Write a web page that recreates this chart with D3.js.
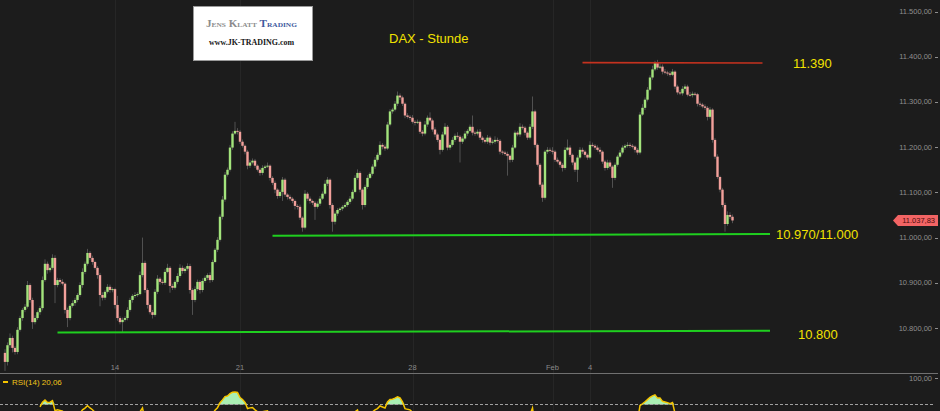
<!DOCTYPE html>
<html><head><meta charset="utf-8">
<script src="https://cdn.jsdelivr.net/npm/d3@7"></script>
<style>html,body{margin:0;padding:0;background:#1c1c1c;overflow:hidden}</style>
</head><body>
<svg id="c" width="940" height="411"></svg>
<script>
// ---- data (DAX hourly closes) ----
const closes = [
10725,10762,10778,10756,10747,10796,10822,10840,10847,10895,
10862,10813,10822,10835,10844,10906,10942,10928,10933,10955,
10895,10906,10902,10898,10840,10822,10849,10855,10862,10873,
10895,10924,10942,10966,10955,10946,10933,10917,10873,10867,
10880,10891,10884,10886,10851,10822,10813,10818,10822,10840,
10862,10871,10873,10875,10917,10944,10884,10851,10835,10829,
10880,10909,10902,10900,10924,10933,10893,10889,10902,10915,
10933,10926,10931,10937,10884,10862,10886,10902,10884,10904,
10911,10917,10906,10946,10973,10995,11046,11084,11139,11150,
11199,11230,11236,11234,11212,11203,11190,11159,11166,11170,
11159,11150,11143,11154,11157,11159,11132,11121,11106,11092,
11101,11128,11095,11090,11086,11081,11070,11068,11044,11022,
11097,11086,11081,11077,11068,11075,11086,11097,11119,11128,
11072,11035,11053,11061,11064,11068,11072,11079,11086,11101,
11132,11143,11106,11072,11112,11132,11141,11157,11172,11183,
11205,11201,11197,11250,11279,11283,11296,11314,11310,11296,
11270,11267,11265,11256,11254,11256,11234,11230,11250,11265,
11259,11239,11228,11216,11194,11228,11245,11199,11205,11216,
11225,11223,11212,11219,11230,11236,11245,11232,11230,11234,
11221,11216,11212,11221,11210,11212,11216,11214,11190,11188,
11185,11181,11172,11199,11232,11228,11245,11243,11232,11221,
11245,11279,11205,11161,11117,11088,11190,11194,11192,11190,
11172,11168,11161,11154,11194,11199,11183,11166,11150,11177,
11194,11190,11183,11177,11205,11203,11199,11194,11190,11168,
11154,11166,11157,11132,11161,11179,11188,11199,11203,11205,
11203,11201,11194,11188,11272,11287,11305,11327,11354,11372,
11387,11376,11378,11367,11365,11363,11360,11367,11334,11321,
11319,11329,11334,11316,11315,11318,11317,11296,11294,11290,
11287,11267,11283,11216,11179,11134,11106,11072,11030,11050,
11046,11037.83];
const firstOpen = 10745;
const wickUp = [
8,6,10,5,4,6,5,4,6,9, 4,5,6,4,5,8,10,5,6,8, 6,5,4,6,3,5,4,6,5,4, 6,8,5,9,4,5,3,4,5,6,
4,6,5,4,3,20,4,5,4,6, 5,4,6,4,8,56,5,4,3,5, 6,8,4,5,6,9,4,5,4,6, 8,5,4,6,5,4,6,5,4,6,
5,4,6,5,4,6,5,8,6,5, 6,5,20,6,4,5,3,4,6,5, 4,3,5,6,4,7,3,4,5,3, 5,6,4,3,5,4,3,4,5,3,
8,4,5,3,4,5,6,5,8,6, 3,4,5,4,3,4,5,4,6,5, 6,8,4,3,5,6,4,5,6,5, 8,4,5,6,5,4,6,9,5,4,
3,5,4,6,4,5,3,4,8,5, 12,4,5,4,3,6,8,4,5,6, 5,8,4,5,6,4,5,25,4,5, 6,4,5,6,4,5,8,5,4,3,
4,5,3,6,5,4,8,5,4,3, 6,33,4,3,4,5,4,6,5,8, 4,5,3,4,6,18,5,3,4,5, 6,5,4,3,8,5,4,5,6,3,
4,6,5,3,5,4,6,5,4,6, 5,4,3,4,6,8,5,6,5,8, 4,6,8,5,6,4,5,6,3,4, 5,6,5,4,6,5,4,3,5,4,
5,4,6,3,4,5,3,4,5,8, 6,5];
const wickDn = [
20,8,6,10,6,5,4,6,5,4, 6,15,5,4,6,5,4,8,5,4, 40,5,6,4,8,20,5,4,6,5, 4,6,5,4,5,6,4,8,25,6,
5,4,6,5,8,6,5,22,4,5, 4,6,5,4,3,5,6,8,5,8, 4,5,6,4,5,3,15,5,4,5, 4,6,5,4,8,33,5,4,8,5,
4,5,6,4,3,5,4,6,5,4, 4,5,3,6,5,4,6,8,5,4, 5,4,6,5,4,3,6,5,8,6, 4,20,5,6,4,5,8,6,5,9,
4,5,6,5,29,4,5,3,4,5, 8,22,6,5,4,5,3,4,5,4, 3,4,6,10,5,4,3,4,5,4, 4,6,5,3,4,5,4,5,6,5,
6,4,5,4,6,3,5,6,4,5, 4,5,6,5,10,4,3,6,5,4, 5,4,46,5,4,5,3,6,5,4, 5,6,4,5,6,4,5,4,6,5,
4,44,6,5,3,4,5,4,6,5, 4,5,6,4,5,9,4,5,4,6, 5,4,6,8,4,3,5,6,5,27, 4,5,6,5,4,3,5,4,6,5,
6,4,5,22,5,4,3,4,5,4, 5,4,6,5,4,3,5,4,3,5, 4,5,3,6,4,5,4,3,6,5, 4,5,6,4,3,5,4,6,5,4,
5,8,4,6,5,4,6,5,17,4, 5,6];
const priceTicks = [10800,10900,11000,11100,11200,11300,11400,11500];
const dayTickIndex = [44, 94, 163, 219, 234];
const dayTickLabels = ["14","21","28","Feb","4"];
const levelStart = [21, 107, 231];
const levelEnd = [306, 306, 303];
const levelFrom = [10790, 11004, 11387];
const levelTo = [10794, 11008, 11386];
const levelLabels = ["10.800", "10.970/11.000", "11.390"];
const lastPrice = 11037.83;
const rsiPeriod = 14;
const rsiLegend = "RSI(14) 20,06";
const rsiLevels = [100, 70];
const title = "DAX - Stunde";

// ---- drawing ----
const W = 940, H = 411;
const svg = d3.select("#c");
const FONT = "'Liberation Sans', Arial, sans-serif";
svg.append("rect").attr("width", W).attr("height", H).attr("fill", "#1c1c1c");

const x = d3.scaleLinear().domain([0, closes.length - 1]).range([5, 732.5]);
const y = d3.scaleLinear().domain([10800, 11500]).range([328, 11.5]);
const de = d3.formatLocale({decimal: ",", thousands: ".", grouping: [3], currency: ["", "€"]});
const fmt = de.format(",.2f");

// faint day grid
svg.append("g").selectAll("line").data(dayTickIndex).join("line")
  .attr("x1", d => Math.round(x(d)) + 0.5).attr("x2", d => Math.round(x(d)) + 0.5)
  .attr("y1", 0).attr("y2", H).attr("stroke", "#262626");

// candles
const candles = closes.map((c, i) => {
  const o = i ? closes[i - 1] : firstOpen;
  return {i, o, c, h: Math.max(o, c) + wickUp[i], l: Math.min(o, c) - wickDn[i]};
});
const cg = svg.append("g");
cg.selectAll("line").data(candles).join("line")
  .attr("x1", d => x(d.i)).attr("x2", d => x(d.i))
  .attr("y1", d => y(d.h)).attr("y2", d => y(d.l))
  .attr("stroke", "#505050").attr("stroke-width", 1);
cg.selectAll("rect").data(candles).join("rect")
  .attr("x", d => x(d.i) - 1.2).attr("width", 2.4)
  .attr("y", d => y(Math.max(d.o, d.c)))
  .attr("height", d => Math.max(1, Math.abs(y(d.o) - y(d.c))))
  .attr("fill", d => d.c >= d.o ? "#a3e47c" : "#f2a09b");

// level lines
const levelColors = ["#1fcf1f", "#1fcf1f", "#c4321f"];
const levelWidths = [2, 2, 1.6];
svg.append("g").selectAll("line").data(levelLabels).join("line")
  .attr("x1", (d, k) => x(levelStart[k])).attr("x2", (d, k) => x(levelEnd[k]))
  .attr("y1", (d, k) => y(levelFrom[k])).attr("y2", (d, k) => y(levelTo[k]))
  .attr("stroke", (d, k) => levelColors[k]).attr("stroke-width", (d, k) => levelWidths[k]);
const labelX = [798, 776, 793];
const labelDy = [8, 5, 5];
svg.append("g").selectAll("text").data(levelLabels).join("text")
  .attr("x", (d, k) => labelX[k]).attr("y", (d, k) => y(levelTo[k]) + labelDy[k])
  .attr("fill", "#f2e200").attr("font-family", FONT).attr("font-size", 13)
  .text(d => d);

// title
svg.append("text").attr("x", 389).attr("y", 42.5).attr("fill", "#f2e200")
  .attr("font-family", FONT).attr("font-size", 13).text(title);

// logo box
svg.append("rect").attr("x", 193.5).attr("y", 6.5).attr("width", 119).attr("height", 54)
  .attr("fill", "#ffffff").attr("stroke", "#9a9a9a");
const l1 = svg.append("text").attr("x", 206).attr("y", 26.5)
  .attr("font-family", "'Liberation Serif', 'Times New Roman', serif").attr("font-size", 10.5)
  .attr("font-weight", "bold").style("font-variant", "small-caps")
  .attr("textLength", 91).attr("lengthAdjust", "spacingAndGlyphs");
l1.append("tspan").attr("fill", "#8c8c8c").text("Jens Klatt ");
l1.append("tspan").attr("fill", "#3d5a9e").text("Trading");
svg.append("text").attr("x", 209).attr("y", 45).attr("fill", "#151515")
  .attr("font-family", "'Liberation Serif', 'Times New Roman', serif").attr("font-size", 8.5)
  .attr("font-weight", "bold").attr("textLength", 85).attr("lengthAdjust", "spacingAndGlyphs")
  .text("www.JK-TRADING.com");

// price axis
const ag = svg.append("g");
ag.selectAll("text").data(priceTicks).join("text")
  .attr("x", 932).attr("y", d => y(d) + 2.5).attr("text-anchor", "end")
  .attr("fill", "#8f8f8f").attr("font-family", FONT).attr("font-size", 7.5)
  .text(d => fmt(d));
ag.selectAll("line").data(priceTicks).join("line")
  .attr("x1", 935).attr("x2", 938).attr("y1", d => Math.round(y(d)) + 0.5).attr("y2", d => Math.round(y(d)) + 0.5)
  .attr("stroke", "#8f8f8f");

// last price marker
const yp = y(lastPrice);
svg.append("path")
  .attr("d", `M893,${yp} L898,${yp - 5.5} L938,${yp - 5.5} L938,${yp + 5.5} L898,${yp + 5.5} Z`)
  .attr("fill", "#f26464");
svg.append("text").attr("x", 935).attr("y", yp + 2.7).attr("text-anchor", "end")
  .attr("fill", "#4a0c0c").attr("font-family", FONT).attr("font-size", 7.5).text(fmt(lastPrice));

// time labels
svg.append("g").selectAll("text").data(dayTickIndex).join("text")
  .attr("x", d => x(d)).attr("y", 370).attr("text-anchor", "middle")
  .attr("fill", "#8a8a8a").attr("font-family", FONT).attr("font-size", 7.5)
  .text((d, k) => dayTickLabels[k]);

// separator
svg.append("line").attr("x1", 0).attr("x2", 938).attr("y1", 373.5).attr("y2", 373.5)
  .attr("stroke", "#707070");

// ---- RSI panel ----
const rsi = new Array(closes.length).fill(null);
let ag0 = 0, al0 = 0;
for (let i = 1; i <= rsiPeriod; i++) {
  const ch = closes[i] - closes[i - 1];
  if (ch > 0) ag0 += ch; else al0 -= ch;
}
ag0 /= rsiPeriod; al0 /= rsiPeriod;
rsi[rsiPeriod] = al0 === 0 ? 100 : 100 - 100 / (1 + ag0 / al0);
for (let i = rsiPeriod + 1; i < closes.length; i++) {
  const ch = closes[i] - closes[i - 1];
  ag0 = (ag0 * (rsiPeriod - 1) + Math.max(ch, 0)) / rsiPeriod;
  al0 = (al0 * (rsiPeriod - 1) + Math.max(-ch, 0)) / rsiPeriod;
  rsi[i] = al0 === 0 ? 100 : 100 - 100 / (1 + ag0 / al0);
}
const ry = d3.scaleLinear().domain([70, 100]).range([404.5, 378.5]);
svg.append("clipPath").attr("id", "rclip").append("rect")
  .attr("x", 0).attr("y", 374).attr("width", W).attr("height", H - 374);
const rg = svg.append("g").attr("clip-path", "url(#rclip)");
const rpts = rsi.map((v, i) => ({i, v})).filter(d => d.v !== null);
rg.append("path").datum(rpts)
  .attr("d", d3.area().x(d => x(d.i)).y0(ry(rsiLevels[1])).y1(d => ry(Math.max(d.v, rsiLevels[1]))))
  .attr("fill", "#a9efb2");
rg.append("line").attr("x1", 0).attr("x2", 935).attr("y1", ry(rsiLevels[1])).attr("y2", ry(rsiLevels[1]))
  .attr("stroke", "#a0a0a0").attr("stroke-dasharray", "3,2");
rg.append("path").datum(rpts)
  .attr("d", d3.line().x(d => x(d.i)).y(d => ry(d.v)))
  .attr("fill", "none").attr("stroke", "#f5c400").attr("stroke-width", 1.5);
svg.append("text").attr("x", 932).attr("y", ry(rsiLevels[0]) + 2.5).attr("text-anchor", "end")
  .attr("fill", "#8f8f8f").attr("font-family", FONT).attr("font-size", 7.5).text(fmt(rsiLevels[0]));
svg.append("line").attr("x1", 935).attr("x2", 938).attr("y1", 378.5).attr("y2", 378.5).attr("stroke", "#8f8f8f");
svg.append("rect").attr("x", 3).attr("y", 381).attr("width", 5).attr("height", 2).attr("fill", "#f5c400");
svg.append("text").attr("x", 12).attr("y", 384.5).attr("fill", "#f0c419")
  .attr("font-family", FONT).attr("font-size", 8).text(rsiLegend);
</script>
</body></html>
